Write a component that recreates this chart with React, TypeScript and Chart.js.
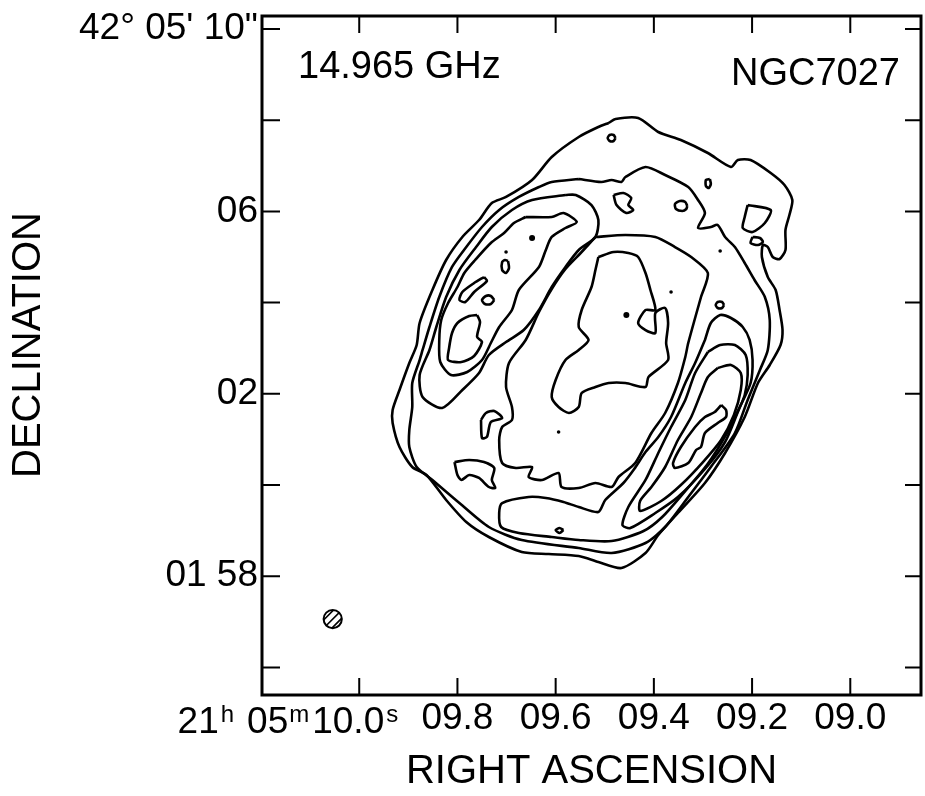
import React, { useEffect, useRef } from "react";
import { Chart, registerables } from "chart.js";

Chart.register(...registerables);

type Pt = [number, number];

// ---- axes (RA in seconds of 21h05m, Dec in arcsec offset from 42°05'00") ----
const raMin = 8.856;
const raMax = 10.198;
const decMin = -4.605;
const decMax = 10.285;
const raTicks = [10.0, 9.8, 9.6, 9.4, 9.2, 9.0];
const raTickLabels = ["10.0", "09.8", "09.6", "09.4", "09.2", "09.0"];
const decTicks = [10, 8, 6, 4, 2, 0, -2, -4];
const decTickLabels = ["42° 05' 10\"", "", "06", "", "02", "", "01 58", ""];

const freqLabel = "14.965 GHz";
const sourceLabel = "NGC7027";
const xTitle = "RIGHT ASCENSION";
const yTitle = "DECLINATION";

// ---- contours [RA s, Dec "] ----
const contourOuter: Pt[] = [
  [9.492, 7.939], [9.478, 8.026], [9.432, 8.048], [9.391, 7.741], [9.345, 7.566],
  [9.29, 7.281], [9.243, 6.974], [9.229, 7.127], [9.203, 7.127], [9.162, 6.842],
  [9.134, 6.579], [9.118, 6.25], [9.124, 5.921], [9.132, 5.592], [9.132, 5.154],
  [9.144, 4.956], [9.158, 5.0], [9.168, 5.219], [9.178, 5.263], [9.18, 5.0],
  [9.168, 4.561], [9.152, 4.276], [9.144, 3.838], [9.138, 3.399], [9.142, 3.07],
  [9.164, 2.632], [9.188, 2.237], [9.215, 1.491], [9.255, 0.702], [9.296, 0.044],
  [9.351, -0.614], [9.391, -1.096], [9.417, -1.491], [9.466, -1.82], [9.513, -1.689],
  [9.553, -1.557], [9.614, -1.513], [9.669, -1.469], [9.736, -1.14], [9.782, -0.811],
  [9.823, -0.329], [9.863, 0.219], [9.892, 0.395], [9.918, 0.833], [9.932, 1.36],
  [9.932, 1.645], [9.918, 2.083], [9.898, 2.675], [9.883, 3.07], [9.877, 3.553],
  [9.851, 4.276], [9.823, 4.934], [9.79, 5.439], [9.756, 5.811], [9.73, 6.184],
  [9.701, 6.316], [9.648, 6.689], [9.608, 7.193], [9.553, 7.632], [9.513, 7.851],
];

const contourSecond: Pt[] = [
  [9.553, 6.711], [9.507, 6.645], [9.486, 6.689], [9.466, 6.645], [9.458, 6.754],
  [9.417, 6.974], [9.377, 6.798], [9.33, 6.535], [9.31, 6.25], [9.296, 5.965],
  [9.31, 5.636], [9.284, 5.658], [9.27, 5.702], [9.255, 5.439], [9.235, 5.219],
  [9.215, 4.868], [9.195, 4.496], [9.174, 4.123], [9.164, 3.618], [9.168, 2.961],
  [9.184, 2.522], [9.209, 1.864], [9.235, 1.14], [9.284, 0.395], [9.33, -0.263],
  [9.377, -0.921], [9.417, -1.272], [9.486, -1.491], [9.553, -1.382], [9.669, -1.206],
  [9.736, -0.921], [9.796, -0.395], [9.851, 0.11], [9.883, 0.395], [9.898, 0.833],
  [9.898, 1.206], [9.892, 1.711], [9.892, 2.237], [9.877, 2.741], [9.871, 2.961],
  [9.857, 3.465], [9.837, 4.123], [9.811, 4.781], [9.782, 5.219], [9.75, 5.658],
  [9.715, 6.031], [9.675, 6.316], [9.634, 6.535], [9.608, 6.645],
];

const ridgeEastOuter: Pt[] = [
  [9.58, 6.36], [9.559, 6.36], [9.527, 6.14], [9.513, 5.811], [9.519, 5.439],
  [9.553, 5.154], [9.58, 4.781], [9.608, 4.342], [9.634, 3.838], [9.665, 3.399],
  [9.701, 3.136], [9.736, 2.851], [9.756, 2.456], [9.79, 2.083], [9.831, 1.689],
  [9.871, 1.93], [9.877, 2.412], [9.857, 2.961], [9.843, 3.465], [9.823, 4.123],
  [9.796, 4.715], [9.762, 5.219], [9.73, 5.658], [9.689, 6.031], [9.648, 6.25],
];

const ridgeEastMid: Pt[] = [
  [9.661, 5.877], [9.608, 5.877], [9.584, 5.965], [9.557, 5.768], [9.58, 5.636],
  [9.608, 5.439], [9.62, 5.154], [9.634, 4.781], [9.675, 4.276], [9.689, 3.838],
  [9.715, 3.465], [9.732, 3.114], [9.75, 2.741], [9.78, 2.478], [9.813, 2.412],
  [9.835, 2.697], [9.837, 3.18], [9.833, 3.618], [9.819, 3.991], [9.8, 4.342],
  [9.786, 4.649], [9.764, 4.934], [9.732, 5.307], [9.705, 5.526], [9.685, 5.746],
];

const ridgeEastPeak: Pt[] = [
  [9.76, 3.728], [9.754, 3.575], [9.76, 3.246], [9.75, 3.136], [9.766, 2.829],
  [9.792, 2.697], [9.819, 2.741], [9.817, 3.004], [9.811, 3.333], [9.8, 3.553],
  [9.776, 3.706],
];

const eastIslandA: Pt[] = [
  [9.746, 4.561], [9.74, 4.474], [9.766, 4.232], [9.784, 4.013], [9.796, 4.057],
  [9.79, 4.232], [9.766, 4.43],
];
const eastIslandB: Pt[] = [
  [9.725, 4.057], [9.732, 4.145], [9.742, 4.145], [9.75, 4.057], [9.744, 3.969], [9.732, 3.969],
];
const eastIslandC: Pt[] = [
  [9.697, 4.912], [9.695, 4.759], [9.701, 4.649], [9.709, 4.715], [9.709, 4.89], [9.703, 4.934],
];

const topIslandA: Pt[] = [
  [9.478, 7.61], [9.482, 7.675], [9.49, 7.675], [9.494, 7.61], [9.49, 7.544], [9.482, 7.544],
];
const topIslandB: Pt[] = [
  [9.286, 6.711], [9.284, 6.601], [9.288, 6.513], [9.294, 6.557], [9.294, 6.689],
];
const topIslandC: Pt[] = [
  [9.332, 6.118], [9.336, 6.206], [9.347, 6.228], [9.357, 6.162], [9.355, 6.053],
  [9.342, 6.009], [9.334, 6.053],
];
const westIslandA: Pt[] = [
  [9.209, 6.14], [9.162, 6.031], [9.174, 5.746], [9.199, 5.548], [9.219, 5.636], [9.215, 5.877],
];
const westIslandB: Pt[] = [
  [9.199, 5.439], [9.184, 5.417], [9.178, 5.329], [9.188, 5.263], [9.203, 5.307],
];
const notchLoop: Pt[] = [
  [9.482, 6.36], [9.462, 6.404], [9.446, 6.294], [9.452, 6.14], [9.442, 6.031],
  [9.456, 5.965], [9.476, 6.14],
];
const westIslandC: Pt[] = [
  [9.257, 3.947], [9.261, 4.013], [9.27, 4.013], [9.274, 3.947], [9.27, 3.882], [9.261, 3.882],
];
const southIsland: Pt[] = [
  [9.584, -0.987], [9.592, -0.943], [9.6, -0.987], [9.592, -1.053],
];
const hookLoop: Pt[] = [
  [9.752, 1.425], [9.742, 1.579], [9.725, 1.623], [9.709, 1.469], [9.732, 1.382],
  [9.74, 1.053], [9.75, 1.031],
];
const southEastLoop: Pt[] = [
  [9.806, 0.504], [9.776, 0.548], [9.746, 0.504], [9.725, 0.373], [9.73, 0.11],
  [9.723, -0.066], [9.736, -0.044], [9.756, 0.154], [9.776, 0.219], [9.792, 0.11],
  [9.8, 0.219],
];

const shellInner: Pt[] = [
  [9.519, 5.439], [9.458, 5.482], [9.397, 5.439], [9.357, 5.219], [9.324, 5.0],
  [9.29, 4.649], [9.304, 4.123], [9.33, 3.114], [9.336, 2.807], [9.351, 2.237],
  [9.377, 1.579], [9.405, 1.14], [9.438, 0.482], [9.472, 0.175], [9.486, -0.044],
  [9.519, 0.044], [9.553, -0.066], [9.588, -0.044], [9.594, 0.263], [9.628, 0.11],
  [9.655, 0.175], [9.648, 0.395], [9.681, 0.373], [9.709, 0.482], [9.715, 0.987],
  [9.709, 1.272], [9.689, 1.425], [9.689, 1.711], [9.701, 2.149], [9.695, 2.675],
  [9.661, 3.18], [9.634, 3.794], [9.608, 4.298], [9.58, 4.737], [9.549, 5.088],
];

const centralHole: Pt[] = [
  [9.513, 5.0], [9.482, 5.11], [9.452, 5.088], [9.432, 5.0], [9.417, 4.649],
  [9.407, 4.276], [9.397, 3.838], [9.417, 3.838], [9.432, 3.553], [9.417, 3.399],
  [9.397, 3.333], [9.397, 3.772], [9.377, 3.882], [9.371, 3.553], [9.375, 3.114],
  [9.371, 2.741], [9.411, 2.368], [9.417, 2.149], [9.458, 2.237], [9.492, 2.237],
  [9.519, 2.149], [9.547, 2.018], [9.553, 1.711], [9.573, 1.579], [9.594, 1.711],
  [9.608, 1.93], [9.6, 2.303], [9.58, 2.741], [9.553, 2.961], [9.533, 3.18],
  [9.553, 3.465], [9.547, 3.838], [9.527, 4.342], [9.519, 4.715],
];

const ridgeWestOuter: Pt[] = [
  [9.296, 3.18], [9.284, 3.553], [9.265, 3.728], [9.243, 3.662], [9.219, 3.465],
  [9.205, 3.18], [9.199, 2.741], [9.203, 2.237], [9.225, 1.711], [9.251, 1.14],
  [9.292, 0.439], [9.338, -0.154], [9.383, -0.702], [9.421, -1.009], [9.486, -1.228],
  [9.553, -1.206], [9.608, -1.14], [9.675, -1.053], [9.711, -0.921], [9.715, -0.614],
  [9.709, -0.395], [9.655, -0.263], [9.62, -0.285], [9.584, -0.373], [9.553, -0.482],
  [9.513, -0.592], [9.499, -0.329], [9.462, 0.044], [9.44, 0.351], [9.417, 0.724],
  [9.391, 1.053], [9.365, 1.491], [9.336, 2.237], [9.316, 2.675],
];

const ridgeWestMid: Pt[] = [
  [9.29, 2.917], [9.265, 3.07], [9.235, 3.07], [9.213, 2.851], [9.209, 2.412],
  [9.215, 1.974], [9.229, 1.601], [9.255, 0.943], [9.296, 0.351], [9.351, -0.263],
  [9.397, -0.614], [9.448, -0.943], [9.464, -0.877], [9.452, -0.482], [9.417, 0.11],
  [9.391, 0.702], [9.365, 1.272], [9.336, 1.864], [9.316, 2.456],
];

const ridgeWestHigh: Pt[] = [
  [9.27, 2.566], [9.243, 2.632], [9.223, 2.456], [9.223, 2.083], [9.237, 1.535],
  [9.263, 0.987], [9.3, 0.504], [9.345, 0.0], [9.385, -0.351], [9.428, -0.57],
  [9.428, -0.351], [9.405, -0.044], [9.377, 0.395], [9.351, 0.987], [9.324, 1.491],
  [9.304, 2.018], [9.29, 2.368],
];

const ridgeWestPeak: Pt[] = [
  [9.263, 1.754], [9.253, 1.645], [9.253, 1.491], [9.27, 1.36], [9.296, 1.14],
  [9.304, 0.833], [9.314, 0.768], [9.33, 0.482], [9.357, 0.373], [9.361, 0.482],
  [9.345, 0.833], [9.316, 1.272], [9.296, 1.491], [9.276, 1.601],
];

const smallDots: Pt[] = [
  [9.265, 5.132], [9.365, 4.232], [9.594, 1.162], [9.701, 5.11],
];
const largeDots: Pt[] = [
  [9.648, 5.417], [9.456, 3.728],
];

const beamRA = 10.054;
const beamDec = -2.94;
const beamRadius = 0.2; // arcsec

const contours: Pt[][] = [
  contourOuter, contourSecond, ridgeEastOuter, ridgeEastMid, ridgeEastPeak,
  eastIslandA, eastIslandB, eastIslandC, topIslandA, topIslandB, topIslandC,
  westIslandA, westIslandB, notchLoop, westIslandC, southIsland, hookLoop,
  southEastLoop, shellInner, centralHole, ridgeWestOuter, ridgeWestMid,
  ridgeWestHigh, ridgeWestPeak,
];

const FONT = '"Liberation Sans", Arial, Helvetica, sans-serif';

const closeLoop = (c: Pt[]) => [...c, c[0]].map(([x, y]) => ({ x, y }));

const overlayPlugin = {
  id: "overlay",
  afterDraw(chart: any) {
    const { ctx, chartArea: a, scales } = chart;
    const xs = scales.x;
    const ys = scales.y;
    ctx.save();
    ctx.strokeStyle = "#000";
    ctx.fillStyle = "#000";
    ctx.lineCap = "butt";
    // inward ticks on all four sides
    ctx.lineWidth = 2;
    ctx.beginPath();
    raTicks.forEach((v) => {
      const p = xs.getPixelForValue(v);
      ctx.moveTo(p, a.bottom);
      ctx.lineTo(p, a.bottom - 17);
      ctx.moveTo(p, a.top);
      ctx.lineTo(p, a.top + 17);
    });
    decTicks.forEach((v) => {
      const p = ys.getPixelForValue(v);
      ctx.moveTo(a.left, p);
      ctx.lineTo(a.left + 18, p);
      ctx.moveTo(a.right, p);
      ctx.lineTo(a.right - 16, p);
    });
    ctx.stroke();
    // frame
    ctx.lineWidth = 3;
    ctx.strokeRect(a.left, a.top, a.right - a.left, a.bottom - a.top);

    // beam (hatched circle)
    const bx = xs.getPixelForValue(beamRA);
    const by = ys.getPixelForValue(beamDec);
    const br = Math.abs(ys.getPixelForValue(beamDec + beamRadius) - by);
    ctx.lineWidth = 2;
    ctx.beginPath();
    ctx.arc(bx, by, br, 0, Math.PI * 2);
    ctx.stroke();
    ctx.save();
    ctx.beginPath();
    ctx.arc(bx, by, br, 0, Math.PI * 2);
    ctx.clip();
    ctx.lineWidth = 1.6;
    ctx.beginPath();
    [-1, 0, 1].forEach((k) => {
      const d = k * br * 0.45;
      ctx.moveTo(bx + d - 2 * br, by + d + 2 * br);
      ctx.lineTo(bx + d + 2 * br, by + d - 2 * br);
    });
    ctx.stroke();
    ctx.restore();

    // in-plot labels
    ctx.font = `38px ${FONT}`;
    ctx.textBaseline = "alphabetic";
    ctx.textAlign = "left";
    ctx.fillText(freqLabel, a.left + 36, a.top + 62);
    ctx.textAlign = "right";
    ctx.fillText(sourceLabel, a.right - 21, a.top + 69);

    // y-axis title
    ctx.save();
    ctx.translate(29, 345);
    ctx.rotate(-Math.PI / 2);
    ctx.textAlign = "center";
    ctx.textBaseline = "middle";
    ctx.font = `40px ${FONT}`;
    ctx.fillText(yTitle, 0, 0);
    ctx.restore();

    // composite first RA label: 21h 05m 10.0s
    const tx = xs.getPixelForValue(raTicks[0]);
    const base = a.bottom + 38;
    const supBase = base - 11;
    const main = `37px ${FONT}`;
    const sup = `24px ${FONT}`;
    ctx.textAlign = "left";
    ctx.font = main;
    const w10 = ctx.measureText(raTickLabels[0]).width;
    const right10 = tx + 25;
    const x10 = right10 - w10;
    ctx.fillText(raTickLabels[0], x10, base);
    ctx.font = sup;
    ctx.fillText("s", right10 + 2, supBase);
    const wm = ctx.measureText("m").width;
    const xm = x10 - 3 - wm;
    ctx.fillText("m", xm, supBase);
    ctx.font = main;
    const w05 = ctx.measureText("05").width;
    const x05 = xm - 1 - w05;
    ctx.fillText("05", x05, base);
    ctx.font = sup;
    const wh = ctx.measureText("h").width;
    const xh = x05 - 13 - wh;
    ctx.fillText("h", xh, supBase);
    ctx.font = main;
    const w21 = ctx.measureText("21").width;
    ctx.fillText("21", xh - 2 - w21, base);
    ctx.restore();
  },
};

export default function App() {
  const ref = useRef<HTMLCanvasElement>(null);
  useEffect(() => {
    if (!ref.current) return;
    const lineSets = contours.map((c) => ({
      data: closeLoop(c),
      showLine: true,
      borderColor: "#000",
      borderWidth: 2.6,
      pointRadius: 0,
      tension: 0.25,
      fill: false,
    }));
    const chart = new Chart(ref.current, {
      type: "scatter",
      data: {
        datasets: [
          ...lineSets,
          {
            data: smallDots.map(([x, y]) => ({ x, y })),
            showLine: false,
            pointRadius: 1.8,
            pointBorderWidth: 0,
            pointBackgroundColor: "#000",
          },
          {
            data: largeDots.map(([x, y]) => ({ x, y })),
            showLine: false,
            pointRadius: 3,
            pointBorderWidth: 0,
            pointBackgroundColor: "#000",
          },
        ] as any,
      },
      options: {
        animation: false,
        responsive: false,
        devicePixelRatio: 1,
        events: [],
        layout: { padding: { top: 16, right: 1, left: 0, bottom: 0 } },
        plugins: { legend: { display: false }, tooltip: { enabled: false } },
        scales: {
          x: {
            type: "linear",
            reverse: true,
            min: raMin,
            max: raMax,
            grid: { display: false, drawTicks: false },
            border: { display: false },
            afterBuildTicks: (s: any) => {
              s.ticks = raTicks.map((value) => ({ value }));
            },
            afterFit: (s: any) => {
              s.height = 101;
              s.paddingLeft = 0;
              s.paddingRight = 0;
            },
            ticks: {
              autoSkip: false,
              maxRotation: 0,
              padding: 2,
              color: "#000",
              font: { size: 37, family: FONT },
              callback: (_v: any, i: number) => (i === 0 ? "" : raTickLabels[i]),
            },
            title: {
              display: true,
              text: xTitle,
              color: "#000",
              font: { size: 40, family: FONT },
              padding: { top: 2, bottom: 0 },
            },
          },
          y: {
            type: "linear",
            min: decMin,
            max: decMax,
            grid: { display: false, drawTicks: false },
            border: { display: false },
            afterBuildTicks: (s: any) => {
              s.ticks = decTicks.map((value) => ({ value }));
            },
            afterFit: (s: any) => {
              s.width = 262;
              s.paddingTop = 0;
              s.paddingBottom = 0;
            },
            ticks: {
              autoSkip: false,
              padding: 4,
              color: "#000",
              font: { size: 37, family: FONT },
              callback: (_v: any, i: number) => decTickLabels[i],
            },
          },
        },
      } as any,
      plugins: [overlayPlugin],
    });
    return () => chart.destroy();
  }, []);
  return (
    <div style={{ position: "absolute", left: 0, top: 0, width: 925, height: 796, background: "#fff", overflow: "hidden" }}>
      <canvas ref={ref} width={925} height={796} style={{ width: 925, height: 796, display: "block" }} />
    </div>
  );
}
